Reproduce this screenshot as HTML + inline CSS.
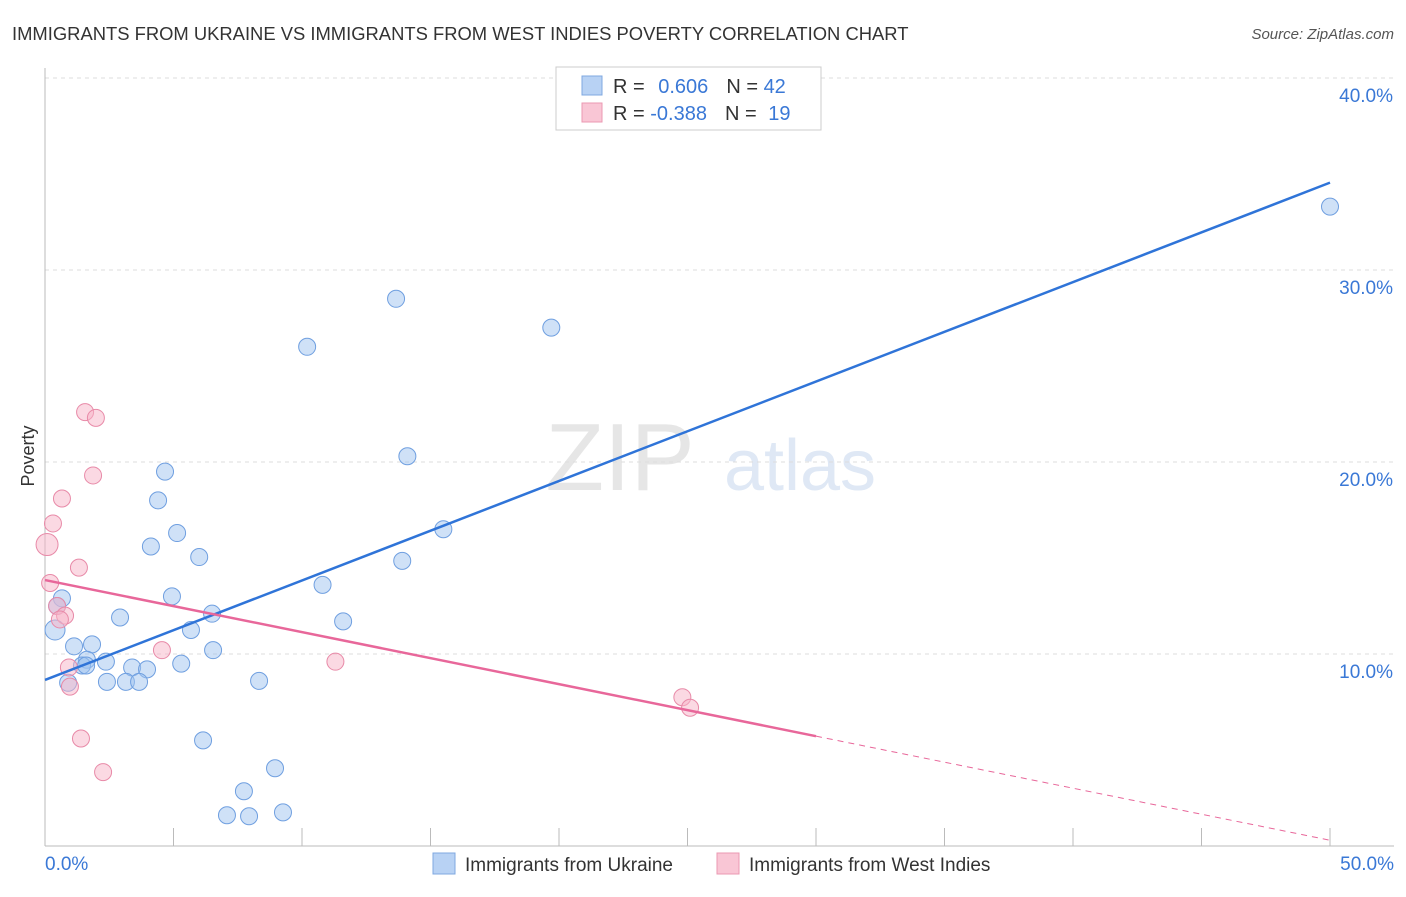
<!DOCTYPE html>
<html><head><meta charset="utf-8"><style>
body{margin:0;background:#fff;font-family:"Liberation Sans",sans-serif}
svg text{font-family:"Liberation Sans",sans-serif}
</style></head><body>
<svg id="c" width="1406" height="892">
<text x="12" y="40" font-size="18.4" fill="#333">IMMIGRANTS FROM UKRAINE VS IMMIGRANTS FROM WEST INDIES POVERTY CORRELATION CHART</text>
<text x="1394" y="39" font-size="15" fill="#555" font-style="italic" text-anchor="end">Source: ZipAtlas.com</text>
<text x="620" y="490" font-size="96" fill="#e6e6e6" font-family="Liberation Serif" text-anchor="middle">ZIP</text>
<text x="800" y="490" font-size="72" fill="#dfe8f5" text-anchor="middle">atlas</text>
<text x="34" y="456" font-size="18" fill="#333" transform="rotate(-90 34 456)" text-anchor="middle">Poverty</text>
<g id="grid"></g><g id="marks"></g>
<rect x="556" y="67" width="265" height="63" fill="#fff" stroke="#ccc"/>
<rect x="582" y="76" width="20" height="19" fill="#b8d2f4" stroke="#7fa8e0"/>
<rect x="582" y="103" width="20" height="19" fill="#f9c6d5" stroke="#eb98b2"/>
<text x="613" y="93" font-size="20" fill="#333">R = <tspan fill="#3a78d6" dx="8">0.606</tspan><tspan fill="#333" dx="18">N = </tspan><tspan fill="#3a78d6">42</tspan></text>
<text x="613" y="120" font-size="20" fill="#333">R = <tspan fill="#3a78d6" dx="0">-0.388</tspan><tspan fill="#333" dx="18">N = </tspan><tspan fill="#3a78d6" dx="6">19</tspan></text>
<rect x="433" y="853" width="22" height="21" fill="#b8d2f4" stroke="#7fa8e0"/>
<text x="465" y="871" font-size="19" fill="#333">Immigrants from Ukraine</text>
<rect x="717" y="853" width="22" height="21" fill="#f9c6d5" stroke="#eb98b2"/>
<text x="749" y="871" font-size="19" fill="#333">Immigrants from West Indies</text>
</svg>
<script>
const blueX=[50,13.66,19.7,10.2,14.1,4.67,4.4,15.5,5.14,4.12,6.0,13.9,10.8,4.94,0.66,0.47,6.5,2.92,11.6,0.39,5.68,1.83,1.13,6.54,1.63,2.37,1.44,3.39,5.3,3.97,0.9,2.41,3.15,3.66,8.33,6.15,8.95,7.74,7.08,7.94,9.26,1.6];
const blueY=[33.3,28.5,27.0,26.0,20.3,19.5,18.0,16.5,16.3,15.6,15.05,14.85,13.6,13.0,12.9,12.5,12.1,11.9,11.7,11.25,11.25,10.5,10.4,10.2,9.7,9.6,9.4,9.3,9.5,9.2,8.5,8.55,8.55,8.55,8.6,5.5,4.05,2.85,1.6,1.55,1.75,9.4];
const pinkX=[1.56,1.98,1.87,0.66,0.31,0.08,1.32,0.2,0.47,0.78,0.58,4.55,11.3,0.93,0.97,24.8,25.1,1.4,2.26];
const pinkY=[22.6,22.3,19.3,18.1,16.8,15.7,14.5,13.7,12.5,12.0,11.8,10.2,9.6,9.3,8.3,7.75,7.2,5.6,3.85];
const blueTrend=[8.65,34.55];
const pinkTrend=[13.85,0.3];
const pinkSolidEnd=30;
const yTicks=[10,20,30,40];
const xTickLabels=["0.0%","50.0%"];
const NS="http://www.w3.org/2000/svg";
const sx=v=>45+v*25.7, sy=v=>846-v*19.2;
function mk(tag,attrs,parent){const e=document.createElementNS(NS,tag);for(const k in attrs)e.setAttribute(k,attrs[k]);document.getElementById(parent).appendChild(e);return e;}
yTicks.forEach(t=>{
 const l=mk('line',{x1:45,x2:1394,y1:sy(t),y2:sy(t),stroke:'#ddd','stroke-dasharray':'4,4'},'grid');
 
 
 const tx=mk('text',{x:1393,y:sy(t)+24,'font-size':19,fill:'#3a78d6','text-anchor':'end'},'grid');
 tx.textContent=t.toFixed(1)+'%';
 
 
});
const ax=mk('line',{x1:45,x2:45,y1:68,y2:846,stroke:'#bbb'},'grid');


const bx=mk('line',{x1:45,x2:1394,y1:846,y2:846,stroke:'#bbb'},'grid');


for(let i=0;i<=10;i++){const t=mk('line',{x1:sx(i*5),x2:sx(i*5),y1:828,y2:846,stroke:'#bbb'},'grid');
 
 }
[[0,'start'],[50,'end']].forEach((p,i)=>{const t=mk('text',{x:i?1394:45,y:870,'font-size':19,fill:'#3a78d6','text-anchor':p[1]},'grid');t.textContent=xTickLabels[i];
 
 });
blueX.forEach((x,i)=>{const c=mk('circle',{cx:sx(x),cy:sy(blueY[i]),r:(i===19?10:8.5),fill:'rgba(160,195,240,0.5)',stroke:'#6f9fe0','stroke-width':1},'marks');
 
 });
pinkX.forEach((x,i)=>{const c=mk('circle',{cx:sx(x),cy:sy(pinkY[i]),r:(i===5?11:8.5),fill:'rgba(248,180,200,0.5)',stroke:'#e88aa8','stroke-width':1},'marks');
 
 });
const bl=mk('line',{x1:sx(0),y1:sy(blueTrend[0]),x2:sx(50),y2:sy(blueTrend[1]),stroke:'#2f74d8','stroke-width':2.5},'marks');


const pm=pinkTrend[0]+(pinkTrend[1]-pinkTrend[0])*pinkSolidEnd/50;
const pl=mk('line',{x1:sx(0),y1:sy(pinkTrend[0]),x2:sx(pinkSolidEnd),y2:sy(pm),stroke:'#e8679a','stroke-width':2.5},'marks');


const pd=mk('line',{x1:sx(pinkSolidEnd),y1:sy(pm),x2:sx(50),y2:sy(pinkTrend[1]),stroke:'#e8679a','stroke-width':1,'stroke-dasharray':'6,5'},'marks');


</script>
</body></html>
